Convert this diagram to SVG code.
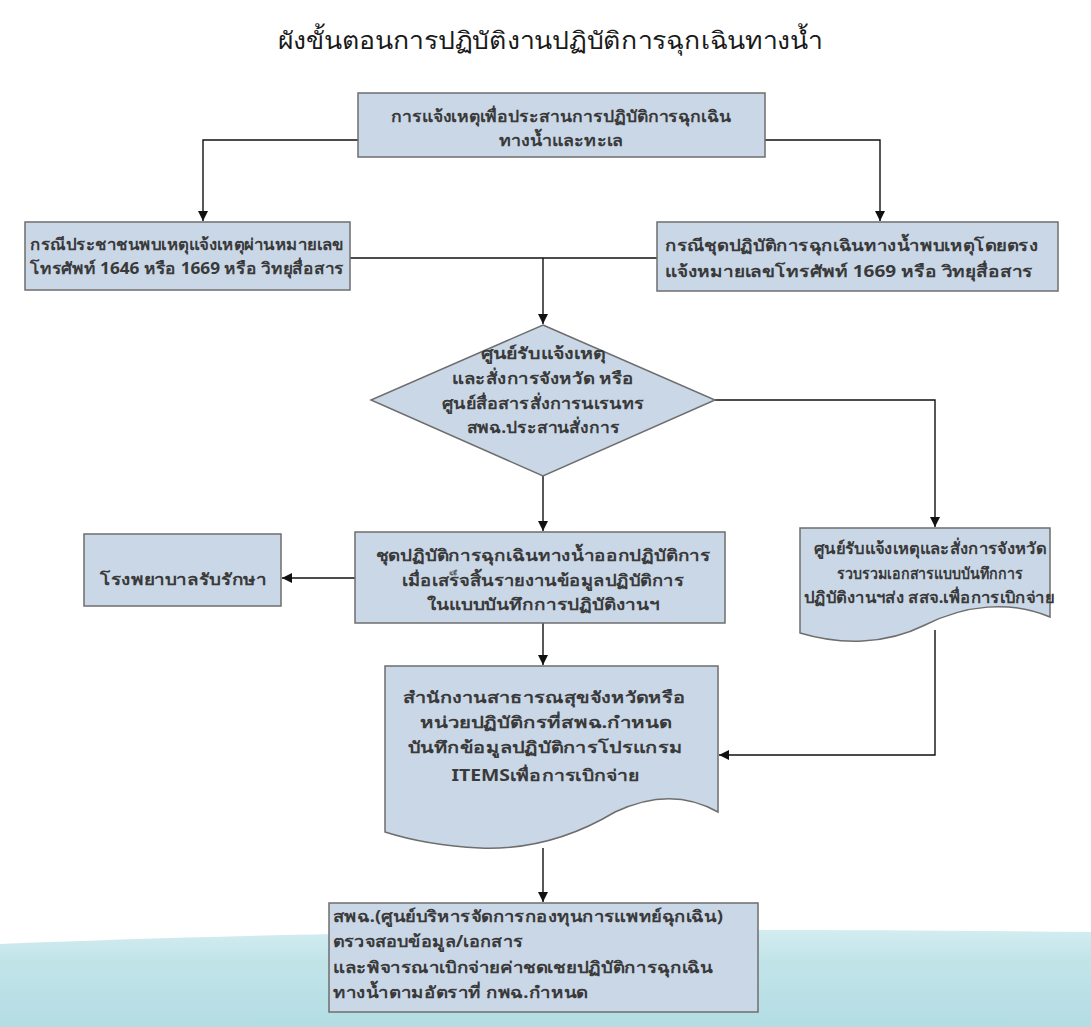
<svg xmlns="http://www.w3.org/2000/svg" width="1091" height="1027" viewBox="0 0 1091 1027">
<style>
.box{fill:#c9d7e7;stroke:#6e6e6e;stroke-width:1.5}
.t{font-family:"Noto Sans","DejaVu Sans",sans-serif;font-size:16px;font-weight:bold;fill:#3a3a3a}
.c{text-anchor:middle}
.ln{fill:none;stroke:#111;stroke-width:1.4}
</style>
<defs>
<marker id="ah" viewBox="0 0 10 10" refX="10" refY="5" markerWidth="10" markerHeight="10" orient="auto" markerUnits="userSpaceOnUse"><path d="M0,0 L10,5 L0,10 Z" fill="#111"/></marker>
<linearGradient id="sea" x1="0" y1="0" x2="0" y2="1"><stop offset="0" stop-color="#d3edf1"/><stop offset="0.3" stop-color="#c2e4e9"/><stop offset="1" stop-color="#b3dde3"/></linearGradient>
</defs>
<rect width="1091" height="1027" fill="#ffffff"/>
<path d="M0,944 C250,934 600,926 1091,932 V1027 H0 Z" fill="url(#sea)"/>
<text x="550" y="49" text-anchor="middle" font-family="'Noto Sans','DejaVu Sans',sans-serif" font-size="24" fill="#1a1a1a" textLength="545" lengthAdjust="spacingAndGlyphs">ผังขั้นตอนการปฏิบัติงานปฏิบัติการฉุกเฉินทางน้ำ</text>
<g id="connectors">
<path class="ln" d="M358,140 H203 V221" marker-end="url(#ah)"/>
<path class="ln" d="M765,140 H880 V221" marker-end="url(#ah)"/>
<path class="ln" d="M350,258 H657"/>
<path class="ln" d="M543,258 V324" marker-end="url(#ah)"/>
<path class="ln" d="M715,400 H935 V527" marker-end="url(#ah)"/>
<path class="ln" d="M543,476 V531" marker-end="url(#ah)"/>
<path class="ln" d="M355,578 H282" marker-end="url(#ah)"/>
<path class="ln" d="M543,623 V665" marker-end="url(#ah)"/>
<path class="ln" d="M935,630 V755 H719" marker-end="url(#ah)"/>
<path class="ln" d="M543,848 V902" marker-end="url(#ah)"/>
</g>
<g id="n1">
<rect class="box" x="358" y="93" width="407" height="64"/>
<text class="t c" x="561" y="122" textLength="340" lengthAdjust="spacingAndGlyphs">การแจ้งเหตุเพื่อประสานการปฏิบัติการฉุกเฉิน</text>
<text class="t c" x="561" y="146" textLength="125" lengthAdjust="spacingAndGlyphs">ทางน้ำและทะเล</text>
</g>
<g id="n2">
<rect class="box" x="25" y="222" width="325" height="68"/>
<text class="t" x="30" y="250" textLength="314" lengthAdjust="spacingAndGlyphs">กรณีประชาชนพบเหตุแจ้งเหตุผ่านหมายเลข</text>
<text class="t" x="30" y="274" textLength="314" lengthAdjust="spacingAndGlyphs">โทรศัพท์ 1646 หรือ 1669 หรือ วิทยุสื่อสาร</text>
</g>
<g id="n3">
<rect class="box" x="657" y="222" width="401" height="69"/>
<text class="t" x="665" y="251" font-size="18" textLength="373" lengthAdjust="spacingAndGlyphs">กรณีชุดปฏิบัติการฉุกเฉินทางน้ำพบเหตุโดยตรง</text>
<text class="t" x="665" y="277" font-size="18" textLength="368" lengthAdjust="spacingAndGlyphs">แจ้งหมายเลขโทรศัพท์ 1669 หรือ วิทยุสื่อสาร</text>
</g>
<g id="n4">
<polygon class="box" points="543,325 715,400 543,476 371,400"/>
<text class="t c" x="543" y="359" textLength="125" lengthAdjust="spacingAndGlyphs">ศูนย์รับแจ้งเหตุ</text>
<text class="t c" x="543" y="384" textLength="182" lengthAdjust="spacingAndGlyphs">และสั่งการจังหวัด หรือ</text>
<text class="t c" x="543" y="409" textLength="202" lengthAdjust="spacingAndGlyphs">ศูนย์สื่อสารสั่งการนเรนทร</text>
<text class="t c" x="543" y="433" textLength="153" lengthAdjust="spacingAndGlyphs">สพฉ.ประสานสั่งการ</text>
</g>
<g id="n5">
<rect class="box" x="355" y="532" width="370" height="91"/>
<text class="t c" x="543" y="561" textLength="335" lengthAdjust="spacingAndGlyphs">ชุดปฏิบัติการฉุกเฉินทางน้ำออกปฏิบัติการ</text>
<text class="t c" x="543" y="586" textLength="282" lengthAdjust="spacingAndGlyphs">เมื่อเสร็จสิ้นรายงานข้อมูลปฏิบัติการ</text>
<text class="t c" x="543" y="610" textLength="233" lengthAdjust="spacingAndGlyphs">ในแบบบันทึกการปฏิบัติงานฯ</text>
</g>
<g id="n6">
<rect class="box" x="84" y="534" width="197" height="72"/>
<text class="t" x="100" y="585" textLength="167" lengthAdjust="spacingAndGlyphs">โรงพยาบาลรับรักษา</text>
</g>
<g id="n7">
<path class="box" d="M800,528 H1050 V617 C1010,600 965,605 925,625 C885,645 840,645 800,633 Z"/>
<text class="t c" x="930" y="554" textLength="232" lengthAdjust="spacingAndGlyphs">ศูนย์รับแจ้งเหตุและสั่งการจังหวัด</text>
<text class="t c" x="930" y="579" textLength="186" lengthAdjust="spacingAndGlyphs">รวบรวมเอกสารแบบบันทึกการ</text>
<text class="t c" x="929" y="603" textLength="250" lengthAdjust="spacingAndGlyphs">ปฏิบัติงานฯส่ง สสจ.เพื่อการเบิกจ่าย</text>
</g>
<g id="n8">
<path class="box" d="M385,666 H718 V812 C690,796 655,793 615,812 C575,836 530,850 480,848 C440,846 410,840 385,832 Z"/>
<text class="t c" x="544" y="703" textLength="283" lengthAdjust="spacingAndGlyphs">สำนักงานสาธารณสุขจังหวัดหรือ</text>
<text class="t c" x="546" y="728" textLength="252" lengthAdjust="spacingAndGlyphs">หน่วยปฏิบัติกรที่สพฉ.กำหนด</text>
<text class="t c" x="545" y="753" textLength="275" lengthAdjust="spacingAndGlyphs">บันทึกข้อมูลปฏิบัติการโปรแกรม</text>
<text class="t c" x="545" y="781" textLength="187" lengthAdjust="spacingAndGlyphs">ITEMSเพื่อการเบิกจ่าย</text>
</g>
<g id="n9">
<rect class="box" x="329" y="903" width="429" height="109"/>
<text class="t" x="333" y="922" textLength="390" lengthAdjust="spacingAndGlyphs">สพฉ.(ศูนย์บริหารจัดการกองทุนการแพทย์ฉุกเฉิน)</text>
<text class="t" x="333" y="947" textLength="190" lengthAdjust="spacingAndGlyphs">ตรวจสอบข้อมูล/เอกสาร</text>
<text class="t" x="333" y="973" textLength="380" lengthAdjust="spacingAndGlyphs">และพิจารณาเบิกจ่ายค่าชดเชยปฏิบัติการฉุกเฉิน</text>
<text class="t" x="333" y="998" textLength="255" lengthAdjust="spacingAndGlyphs">ทางน้ำตามอัตราที่ กพฉ.กำหนด</text>
</g>
</svg>
